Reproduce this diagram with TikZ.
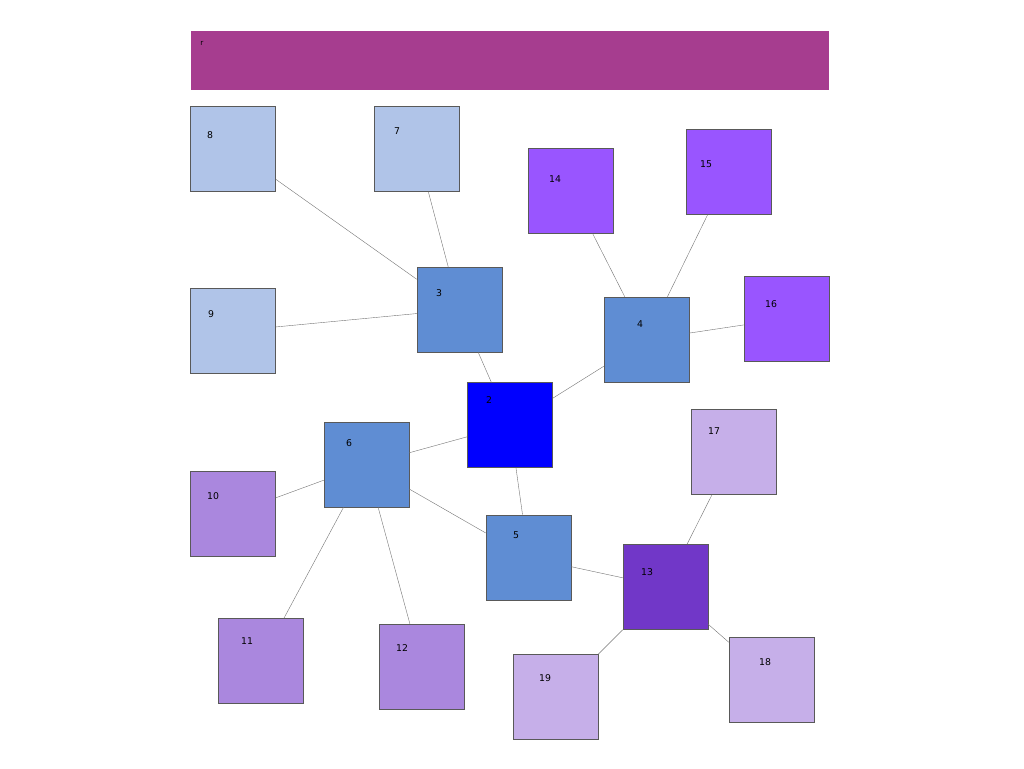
\documentclass[tikz,border=0pt]{standalone}
\usepackage{fontspec}
\setsansfont{DejaVu Sans}
\usetikzlibrary{positioning}
\definecolor{bannerpink}{HTML}{A63D8F}
\definecolor{palesteel}{HTML}{B0C4E8}
\definecolor{midblue}{HTML}{5F8DD3}
\definecolor{purebl}{HTML}{0000FF}
\definecolor{violet}{HTML}{9955FF}
\definecolor{lilac}{HTML}{AA87DE}
\definecolor{palelilac}{HTML}{C6AFE9}
\definecolor{deepviolet}{HTML}{7137C8}

\begin{document}
\begin{tikzpicture}[x=0.75pt, y=-0.75pt,
  box/.style={draw=black!65, line width=0.4pt, minimum size=63.75pt, inner sep=0pt},
  num/.style={font=\sffamily\fontsize{7}{8}\selectfont, inner sep=0pt, anchor=center},
  link/.style={draw=black!55, line width=0.3pt}
]
  \useasboundingbox (0,0) rectangle (1024,768);
  % title bar
  \node[draw=none, fill=bannerpink, minimum width=478.5pt, minimum height=44.25pt, inner sep=0pt] (banner) at (510,60.5) {};
  \node[num, font=\sffamily\fontsize{5.5}{6}\selectfont] at (202,43) {r};

  % boxes
  \node[box, fill=palesteel] (n8) at (233,149) {};
  \node[box, fill=palesteel] (n7) at (417,149) {};
  \node[box, fill=palesteel] (n9) at (233,331) {};
  \node[box, fill=midblue] (n3) at (459.5,309.5) {};
  \node[box, fill=midblue] (n4) at (646.5,339.5) {};
  \node[box, fill=midblue] (n6) at (366.5,464.5) {};
  \node[box, fill=midblue] (n5) at (528.5,557.5) {};
  \node[box, fill=purebl] (n2) at (510,425) {};
  \node[box, fill=violet] (n14) at (571,191) {};
  \node[box, fill=violet] (n15) at (728.5,172) {};
  \node[box, fill=violet] (n16) at (786.5,318.5) {};
  \node[box, fill=lilac] (n10) at (233,513.5) {};
  \node[box, fill=lilac] (n11) at (261,661) {};
  \node[box, fill=lilac] (n12) at (421.5,666.5) {};
  \node[box, fill=deepviolet] (n13) at (665.5,587) {};
  \node[box, fill=palelilac] (n17) at (733.5,452) {};
  \node[box, fill=palelilac] (n18) at (771.5,679.5) {};
  \node[box, fill=palelilac] (n19) at (555.5,697) {};

  % numbers
  \node[num] at (210,135) {8};
  \node[num] at (397,131) {7};
  \node[num] at (211,314) {9};
  \node[num] at (439,293) {3};
  \node[num] at (640,324) {4};
  \node[num] at (349,443) {6};
  \node[num] at (516,535) {5};
  \node[num] at (489,400) {2};
  \node[num] at (555,179) {14};
  \node[num] at (706,164) {15};
  \node[num] at (771,304) {16};
  \node[num] at (213,496) {10};
  \node[num] at (247,641) {11};
  \node[num] at (402,648) {12};
  \node[num] at (647,572) {13};
  \node[num] at (714,431) {17};
  \node[num] at (765,662) {18};
  \node[num] at (545,678) {19};

  % links
  \draw[link] (n8) -- (n3);
  \draw[link] (n7) -- (n3);
  \draw[link] (n9) -- (n3);
  \draw[link] (n3) -- (n2);
  \draw[link] (n2) -- (n4);
  \draw[link] (n4) -- (n14);
  \draw[link] (n4) -- (n15);
  \draw[link] (n4) -- (n16);
  \draw[link] (n2) -- (n6);
  \draw[link] (n2) -- (n5);
  \draw[link] (n6) -- (n5);
  \draw[link] (n6) -- (n10);
  \draw[link] (n6) -- (n11);
  \draw[link] (n6) -- (n12);
  \draw[link] (n5) -- (n13);
  \draw[link] (n13) -- (n17);
  \draw[link] (n13) -- (n18);
  \draw[link] (n13) -- (n19);
\end{tikzpicture}
\end{document}
